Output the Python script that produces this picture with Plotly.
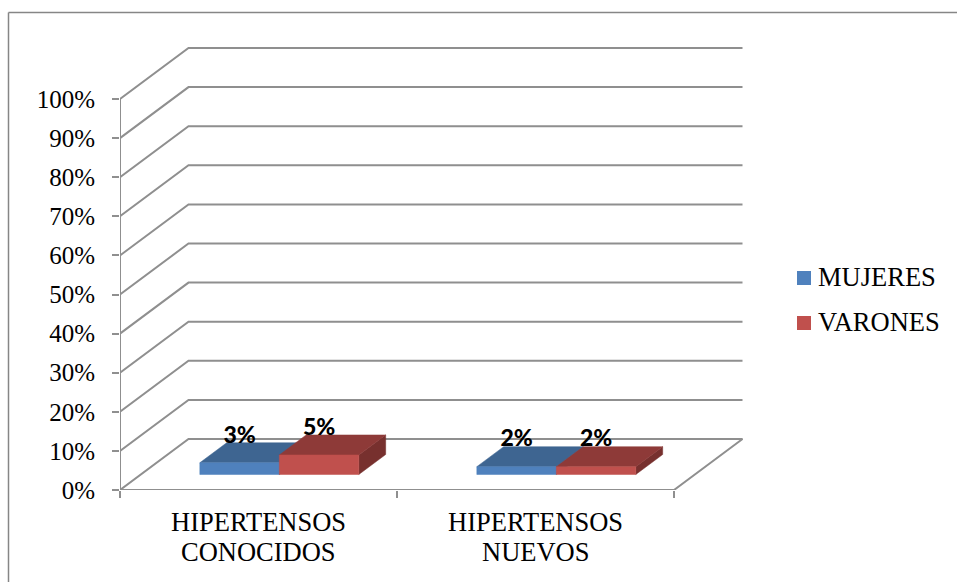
import plotly.graph_objects as go

# Chart data
categories = ["HIPERTENSOS<br>CONOCIDOS", "HIPERTENSOS<br>NUEVOS"]
series_names = ["MUJERES", "VARONES"]
mujeres = [3, 2]
varones = [5, 2]
percent_ticks = [0, 10, 20, 30, 40, 50, 60, 70, 80, 90, 100]

# Pixel scale of the axes and of the oblique depth direction
W, H = 957, 582
LEFT, RIGHT, TOP, BOTTOM = 120, 750, 40, 490
PX_PER_CAT = 277
PX_PER_PCT = 3.91
DEPTH_X = 68.5 / PX_PER_CAT
DEPTH_Y = 51 / PX_PER_PCT
PLOT_W, PLOT_H = RIGHT - LEFT, BOTTOM - TOP

GRID = "#8F8F8F"
FRAME = "#868686"
SERIF = "Liberation Serif"

FACE = {
    "MUJERES": ("#4F81BD", "#3E6591", "#375A82"),
    "VARONES": ("#C0504D", "#8E3A38", "#77302E"),
}


def project(cat, val, depth):
    """Oblique projection of (category position, percent, depth 0..1)."""
    return cat + depth * DEPTH_X, val + depth * DEPTH_Y


def px_x(px):
    """Page pixel column to paper coordinate of the plot area."""
    return (px - LEFT) / PLOT_W


def px_y(px):
    """Page pixel row to paper coordinate of the plot area."""
    return (BOTTOM - px) / PLOT_H


def polygon(points, color):
    xs, ys = zip(*[project(*p) for p in points])
    return go.Scatter(
        x=list(xs) + [xs[0]], y=list(ys) + [ys[0]], mode="lines",
        fill="toself", fillcolor=color, line=dict(color=color, width=0.5),
        hoverinfo="skip", showlegend=False, cliponaxis=False,
    )


def wire(points):
    xs, ys = zip(*[project(*p) for p in points])
    return go.Scatter(
        x=xs, y=ys, mode="lines", line=dict(color=GRID, width=2),
        hoverinfo="skip", showlegend=False, cliponaxis=False,
    )


fig = go.Figure()
n = len(categories)

# Gridlines run up the side wall and along the back wall
for v in percent_ticks[1:]:
    fig.add_trace(wire([(0, v, 0), (0, v, 1), (n, v, 1)]))

# Floor outline and value axis
fig.add_trace(wire([(0, 0, 0), (0, 0, 1), (n, 0, 1), (n, 0, 0), (0, 0, 0)]))
fig.add_trace(wire([(0, 0, 0), (0, 100, 0)]))

# Bars, each occupying a slot of the category and the middle of the depth
GAP = (277 - 159) / 2 / 277
BAR_W = (1 - 2 * GAP) / 2
D0, D1 = 0.304, 0.696
LABEL_LIFT = 6 / PX_PER_PCT

labels_x, labels_y, labels_t = [], [], []
for i in range(n):
    for j, (name, values) in enumerate(zip(series_names, [mujeres, varones])):
        v = values[i]
        x0 = i + GAP + j * BAR_W
        x1 = x0 + BAR_W
        front, top, side = FACE[name]
        fig.add_trace(polygon([(x1, 0, D0), (x1, 0, D1), (x1, v, D1), (x1, v, D0)], side))
        fig.add_trace(polygon([(x0, v, D0), (x1, v, D0), (x1, v, D1), (x0, v, D1)], top))
        fig.add_trace(polygon([(x0, 0, D0), (x1, 0, D0), (x1, v, D0), (x0, v, D0)], front))
        labels_x.append(project((x0 + x1) / 2, v, D0)[0])
        labels_y.append(project((x0 + x1) / 2, v, D1)[1] + LABEL_LIFT)
        labels_t.append(f"{v}%")

fig.add_trace(go.Scatter(
    x=labels_x, y=labels_y, text=labels_t, mode="text", textposition="middle center",
    textfont=dict(family="Lato", size=23, color="black", weight=900),
    hoverinfo="skip", showlegend=False, cliponaxis=False,
))

# Chart frame: top and left edges only
shapes = [
    dict(type="line", xref="paper", yref="paper", x0=px_x(8.5), x1=px_x(W), y0=px_y(12.5), y1=px_y(12.5),
         line=dict(color=FRAME, width=1.5)),
    dict(type="line", xref="paper", yref="paper", x0=px_x(8.5), x1=px_x(8.5), y0=px_y(12.5), y1=px_y(H),
         line=dict(color=FRAME, width=1.5)),
]
annotations = []

# Legend swatches and names
for name, swatch_y, text_y in zip(series_names, [278, 323], [277, 321.5]):
    shapes.append(dict(type="rect", xref="paper", yref="paper",
                       x0=px_x(797), x1=px_x(811), y0=px_y(swatch_y - 7), y1=px_y(swatch_y + 7),
                       fillcolor=FACE[name][0], line=dict(width=0)))
    annotations.append(dict(text=name, xref="paper", yref="paper", x=px_x(817), y=px_y(text_y),
                            xanchor="left", yanchor="middle", showarrow=False, borderpad=0,
                            font=dict(family=SERIF, size=26.5, color="black")))

# Category names, one annotation per line for tight leading
for k, cat in enumerate(categories):
    for line, y_px in zip(cat.split("<br>"), [522, 552]):
        annotations.append(dict(text=line, xref="x", yref="paper", x=k + 0.5, y=px_y(y_px),
                                xanchor="center", yanchor="middle", showarrow=False, borderpad=0,
                                font=dict(family=SERIF, size=26.5, color="black")))

fig.update_layout(
    width=W, height=H, autosize=False,
    margin=dict(l=LEFT, r=W - RIGHT, t=TOP, b=H - BOTTOM, autoexpand=False),
    paper_bgcolor="white", plot_bgcolor="white",
    showlegend=False, shapes=shapes, annotations=annotations,
    xaxis=dict(
        range=[0, PLOT_W / PX_PER_CAT], showgrid=False, zeroline=False, showline=False,
        tickmode="array", tickvals=list(range(n + 1)), showticklabels=False,
        ticks="outside", ticklen=7, tickwidth=2, tickcolor=GRID,
    ),
    yaxis=dict(
        range=[0, PLOT_H / PX_PER_PCT], showgrid=False, zeroline=False, showline=False,
        tickmode="array", tickvals=percent_ticks, ticktext=[f"{t}%" for t in percent_ticks],
        ticks="outside", ticklen=7, tickwidth=2, tickcolor=GRID,
        tickfont=dict(family=SERIF, size=25, color="black"),
        ticklabelstandoff=12,
    ),
)

fig.write_html("out.html")
